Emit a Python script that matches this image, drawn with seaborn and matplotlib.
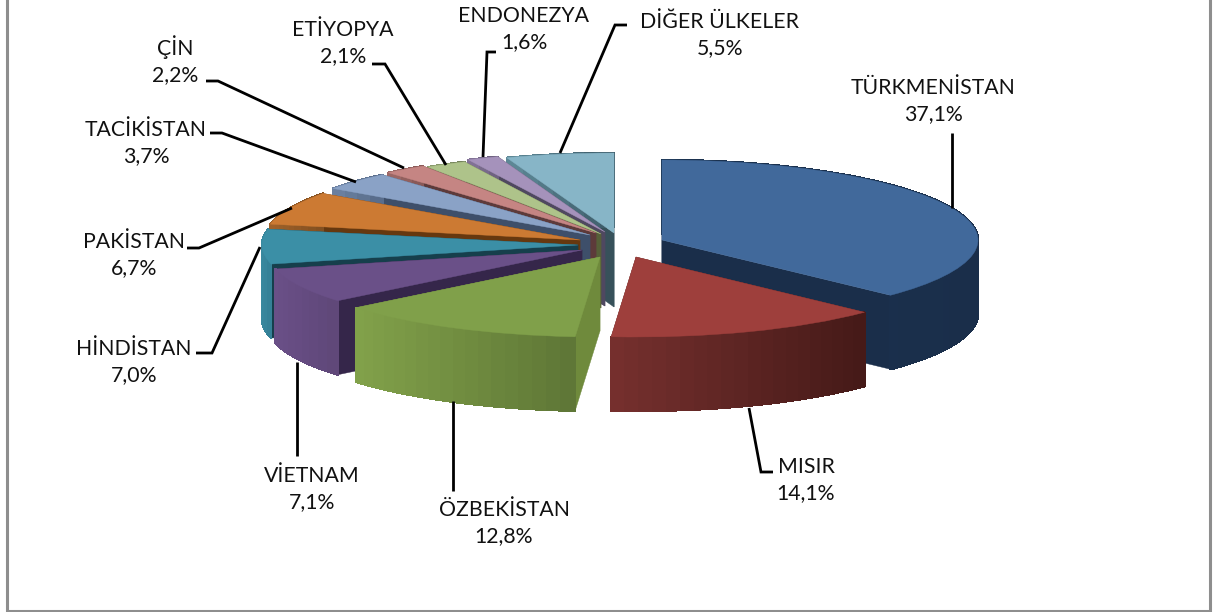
import numpy as np
import matplotlib
matplotlib.use("Agg")
import matplotlib.pyplot as plt
from matplotlib.colors import to_rgb
from matplotlib.patches import Polygon, Rectangle
import seaborn as sns

countries = ["TÜRKMENİSTAN", "MISIR", "ÖZBEKİSTAN", "VİETNAM", "HİNDİSTAN", "PAKİSTAN",
             "TACİKİSTAN", "ÇİN", "ETİYOPYA", "ENDONEZYA", "DİĞER ÜLKELER"]
shares = [37.1, 14.1, 12.8, 7.1, 7.0, 6.7, 3.7, 2.2, 2.1, 1.6, 5.5]
share_labels = ["37,1%", "14,1%", "12,8%", "7,1%", "7,0%", "6,7%", "3,7%", "2,2%", "2,1%", "1,6%", "5,5%"]

# styling
top_colors = ["#41699b", "#9e3f3c", "#80a04a", "#6a5088", "#3b8fa6", "#cc7a33",
              "#8aa2c6", "#c58583", "#aec38a", "#a592bb", "#87b5c7"]
wall_left = ["#1b3350", "#76302e", "#82a24a", "#6a5088", "#3a8aa0", "#a0622a",
             "#6c82a2", "#a06a68", "#8c9d6e", "#85759a", "#5f8a99"]
wall_right = ["#1a2e4a", "#451a18", "#5e7636", "#5f4778", "#347f95", "#804e20",
              "#566a88", "#845654", "#707e58", "#6b5e7c", "#3b5a66"]
cut_colors = ["#1a2e4a", "#5a2422", "#6f8a3c", "#35264a", "#163f4c", "#66380f",
              "#3e4f6a", "#5d3a3a", "#565f38", "#4f4860", "#37515a"]
# pixel position of each slice apex
apex_x = [662, 636, 600, 582, 578, 580, 590, 596, 601, 605, 614]
apex_y = [240, 257, 257, 250, 245, 240, 235, 233, 234, 232, 233]
draw_order = [10, 9, 8, 7, 6, 5, 4, 0, 3, 1, 2]
RX, RY, DEPTH = 316.0, 80.0, 74.0
W, H = 1215, 612

sns.set_theme(style="white")
plt.rcParams["font.family"] = ["Lato", "DejaVu Sans"]

fig = plt.figure(figsize=(W / 100, H / 100), dpi=100, facecolor="white")
ax = fig.add_axes([0, 0, 1, 1])
wedges, _ = ax.pie(shares, colors=top_colors, startangle=90, counterclock=False,
                   radius=1.0, wedgeprops=dict(linewidth=0.3))
ax.set_aspect("auto")
ax.set_xlim(0, W / RX)
ax.set_ylim(-H / RY, 0)
ax.axis("off")


def to_data(px, py):
    return px / RX, -py / RY


d = DEPTH / RY
for i in draw_order:
    w = wedges[i]
    cx, cy = to_data(apex_x[i], apex_y[i])
    w.set_center((cx, cy))
    w.set_edgecolor(top_colors[i])
    z = 2 * (draw_order.index(i) + 1)
    t1, t2 = np.radians(w.theta1), np.radians(w.theta2)
    # cut faces
    for t in (t1, t2):
        p = (cx + np.cos(t), cy + np.sin(t))
        ax.add_patch(Polygon([(cx, cy), p, (p[0], p[1] - d), (cx, cy - d)],
                             closed=True, fc=cut_colors[i], ec=cut_colors[i], lw=0.3, zorder=z))
    # outer wall
    ts = np.linspace(t1, t2, max(int((t2 - t1) * 24), 4))
    xs = cx + np.cos(ts)
    ys = cy + np.sin(ts)
    lo, hi = xs.min(), xs.max()
    c0, c1 = np.array(to_rgb(wall_left[i])), np.array(to_rgb(wall_right[i]))
    for k in range(len(ts) - 1):
        f = ((xs[k] + xs[k + 1]) / 2 - lo) / max(hi - lo, 1e-6)
        col = c0 + (c1 - c0) * f
        ax.add_patch(Polygon([(xs[k], ys[k]), (xs[k + 1], ys[k + 1]),
                              (xs[k + 1], ys[k + 1] - d), (xs[k], ys[k] - d)],
                             closed=True, fc=col, ec=col, lw=1.0, antialiased=False, zorder=z))
    w.set_zorder(z + 1)

# pixel overlay for frame, labels, leader lines
ov = fig.add_axes([0, 0, 1, 1], facecolor="none")
ov.set_xlim(0, W)
ov.set_ylim(H, 0)
ov.axis("off")
ov.add_patch(Rectangle((7, -20), 1203, 631, fc="none", ec="#8e8e8e", lw=2.2))

label_xy = [(933, 101), (806, 480), (504, 523), (312, 489), (134, 362), (134, 255),
            (146, 143), (175, 60), (343, 43), (524, 29), (720, 35)]
leaders = [
    [(952, 208), (952, 133), (952, 133)],
    [(749, 408), (761, 472), (773, 472)],
    [(453, 401), (453, 491), (453, 491)],
    [(297, 362), (297, 456), (297, 456)],
    [(260, 247), (212, 353), (196, 353)],
    [(292, 208), (199, 248), (187, 248)],
    [(356, 182), (222, 133), (210, 133)],
    [(404, 168), (218, 81), (206, 81)],
    [(446, 165), (385, 64), (372, 64)],
    [(483, 157), (487, 52), (496, 52)],
    [(560, 153), (615, 25), (627, 25)],
]
for (x, y), name, val in zip(label_xy, countries, share_labels):
    ov.text(x, y, name + "\n" + val, ha="center", va="center", fontsize=15.3,
            color="#111111", linespacing=1.42)
for pts in leaders:
    xs, ys = zip(*pts)
    ov.plot(xs, ys, color="black", lw=2.0, solid_capstyle="butt", solid_joinstyle="miter")

fig.savefig("out.png", dpi=100, facecolor="white")
